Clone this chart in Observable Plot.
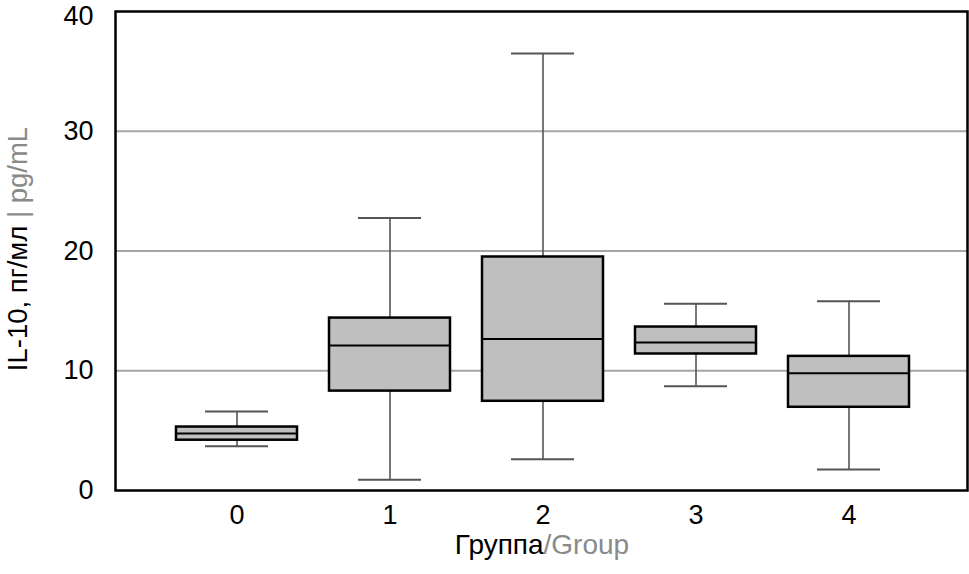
<!DOCTYPE html>
<html><head><meta charset="utf-8">
<script src="https://cdn.jsdelivr.net/npm/d3@7"></script>
<script src="https://cdn.jsdelivr.net/npm/@observablehq/plot@0.6"></script>
<style>body{margin:0;background:#fff}</style>
</head><body><div id="chart"></div>
<script>
const groups = ["0", "1", "2", "3", "4"];
const whiskerLow = [3.7, 0.9, 2.6, 8.7, 1.75];
const q1 = [4.2, 8.3, 7.45, 11.4, 6.95];
const median = [4.75, 12.1, 12.65, 12.35, 9.8];
const q3 = [5.3, 14.4, 19.5, 13.65, 11.2];
const whiskerHigh = [6.6, 22.75, 36.5, 15.6, 15.8];
const yTicks = [0, 10, 20, 30];
const yTopTick = [40];
const yGrid = [10, 20, 30];
const xTitle = ["Группа", "/Group"];
const yTitle = ["IL-10, пг/мл ", "| pg/mL"];

const data = groups.map((g, i) => ({group: g, lo: whiskerLow[i], q1: q1[i], med: median[i], q3: q3[i], hi: whiskerHigh[i]}));

const font = "'Liberation Sans', Arial, sans-serif";
const plot = Plot.plot({
  width: 969, height: 574,
  marginLeft: 115, marginRight: 2, marginTop: 11, marginBottom: 84,
  style: {fontFamily: font, fontSize: "27px", color: "#000", background: "#fff"},
  x: {type: "band", domain: groups, paddingInner: 0.2085, paddingOuter: 0.3795, align: 0.509, label: null, tickSize: 0, tickPadding: 14},
  y: {domain: [0, 40], label: null},
  marks: [
    Plot.ruleY(yGrid, {stroke: "#a6a6a6", strokeWidth: 2}),
    Plot.axisY(yTicks, {tickSize: 0, tickPadding: 22, label: null}),
    Plot.axisY(yTopTick, {tickSize: 0, tickPadding: 22, dy: 5, label: null}),
    Plot.ruleX(data, {x: "group", y1: "lo", y2: "q1", stroke: "#555", strokeWidth: 1.6}),
    Plot.ruleX(data, {x: "group", y1: "q3", y2: "hi", stroke: "#555", strokeWidth: 1.6}),
    Plot.tickY(data, {x: "group", y: "lo", insetLeft: 29, insetRight: 29, stroke: "#555", strokeWidth: 2}),
    Plot.tickY(data, {x: "group", y: "hi", insetLeft: 29, insetRight: 29, stroke: "#555", strokeWidth: 2}),
    Plot.barY(data, {x: "group", y1: "q1", y2: "q3", fill: "#bfbfbf", stroke: "#000", strokeWidth: 2.5}),
    Plot.tickY(data, {x: "group", y: "med", stroke: "#000", strokeWidth: 2}),
    Plot.frame({stroke: "#000", strokeWidth: 2.5})
  ]
});
document.getElementById("chart").appendChild(plot);

const svg = d3.select(plot);
const xt = svg.append("text").attr("x", 542).attr("y", 554).attr("text-anchor", "middle")
  .style("font-family", font).style("font-size", "28px");
xt.append("tspan").attr("fill", "#000").text(xTitle[0]);
xt.append("tspan").attr("fill", "#8a8a8a").text(xTitle[1]);
const yt = svg.append("text").attr("transform", "translate(27,249) rotate(-90)").attr("text-anchor", "middle")
  .style("font-family", font).style("font-size", "27.5px");
yt.append("tspan").attr("fill", "#000").text(yTitle[0]);
yt.append("tspan").attr("fill", "#8a8a8a").text(yTitle[1]);
</script>
</body></html>
